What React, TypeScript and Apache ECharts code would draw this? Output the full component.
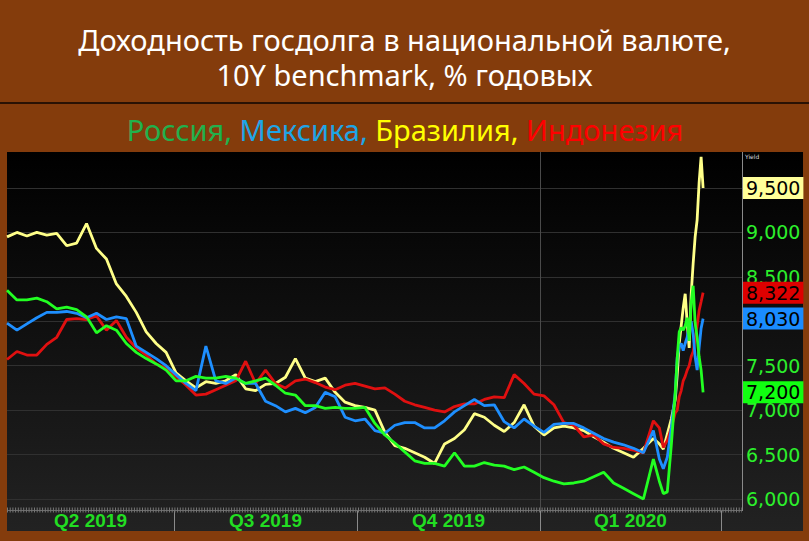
import React, { useEffect, useRef } from 'react';
import * as echarts from 'echarts';

const dates = [
  '2019-04-08', '2019-04-13', '2019-04-18', '2019-04-23', '2019-04-28', '2019-05-03', '2019-05-08', '2019-05-13',
  '2019-05-18', '2019-05-23', '2019-05-28', '2019-06-02', '2019-06-07', '2019-06-12', '2019-06-17', '2019-06-22',
  '2019-06-27', '2019-07-02', '2019-07-07', '2019-07-12', '2019-07-17', '2019-07-22', '2019-07-27', '2019-08-01',
  '2019-08-06', '2019-08-11', '2019-08-16', '2019-08-21', '2019-08-26', '2019-08-31', '2019-09-05', '2019-09-10',
  '2019-09-15', '2019-09-20', '2019-09-25', '2019-09-30', '2019-10-05', '2019-10-10', '2019-10-15', '2019-10-20',
  '2019-10-25', '2019-10-30', '2019-11-04', '2019-11-09', '2019-11-14', '2019-11-19', '2019-11-24', '2019-11-29',
  '2019-12-04', '2019-12-09', '2019-12-14', '2019-12-19', '2019-12-24', '2019-12-29', '2020-01-03', '2020-01-08',
  '2020-01-13', '2020-01-18', '2020-01-23', '2020-01-28', '2020-02-02', '2020-02-07', '2020-02-12', '2020-02-17',
  '2020-02-22', '2020-02-27', '2020-03-01', '2020-03-03', '2020-03-05', '2020-03-07', '2020-03-09', '2020-03-10',
  '2020-03-11', '2020-03-12', '2020-03-13', '2020-03-14', '2020-03-15', '2020-03-16', '2020-03-17', '2020-03-18',
  '2020-03-19', '2020-03-20', '2020-03-21', '2020-03-22', '2020-03-23',
];

const brazil = [
  8.95, 9.0, 8.96, 9.0, 8.97, 8.99, 8.85, 8.88, 9.1, 8.82, 8.7, 8.42, 8.28, 8.1, 7.88, 7.75,
  7.65, 7.42, 7.33, 7.25, 7.32, 7.3, 7.33, 7.4, 7.24, 7.22, 7.29, 7.3, 7.37, 7.58, 7.36, 7.32,
  7.36, 7.2, 7.09, 7.05, 7.03, 7.0, 6.75, 6.6, 6.57, 6.52, 6.47, 6.4, 6.62, 6.68, 6.78, 6.96,
  6.92, 6.83, 6.76, 6.86, 7.06, 6.82, 6.72, 6.8, 6.82, 6.8, 6.77, 6.7, 6.64, 6.57, 6.52, 6.47,
  6.57, 6.68, 6.62, 6.56, 6.73, 6.9, 7.12, 7.4, 7.75, 7.95, 8.15, 8.31, 7.98, 7.7, 8.3, 8.65,
  8.95, 9.14, 9.56, 9.85, 9.5,
];

const russia = [
  8.35, 8.24, 8.24, 8.26, 8.22, 8.14, 8.16, 8.13, 8.05, 7.87, 7.95, 7.9, 7.75, 7.65, 7.58, 7.52,
  7.45, 7.33, 7.33, 7.38, 7.36, 7.36, 7.38, 7.36, 7.3, 7.33, 7.36, 7.28, 7.19, 7.17, 7.05, 7.05,
  7.02, 7.03, 7.02, 7.02, 7.03, 6.85, 6.72, 6.63, 6.53, 6.43, 6.4, 6.4, 6.37, 6.52, 6.37, 6.37,
  6.41, 6.38, 6.37, 6.33, 6.36, 6.3, 6.24, 6.2, 6.17, 6.18, 6.2, 6.25, 6.3, 6.18, 6.12, 6.06,
  6.0, 6.45, 6.2, 6.06, 6.08, 6.6, 7.2, 7.59, 7.88, 7.93, 7.9, 7.95, 8.04, 7.78, 8.2, 8.4,
  7.98, 7.82, 7.6, 7.45, 7.2,
];

const mexico = [
  7.98, 7.9, 7.97, 8.04, 8.1, 8.1, 8.11, 8.09, 8.04, 8.09, 8.02, 8.05, 8.03, 7.72, 7.65, 7.58,
  7.5, 7.4, 7.3, 7.22, 7.72, 7.33, 7.3, 7.36, 7.3, 7.3, 7.1, 7.05, 6.98, 7.02, 6.97, 7.03,
  7.2, 7.15, 6.92, 6.88, 6.9, 6.77, 6.74, 6.83, 6.86, 6.86, 6.8, 6.8, 6.88, 6.98, 7.05, 7.12,
  7.05, 7.06, 6.87, 6.8, 6.9, 6.82, 6.75, 6.84, 6.85, 6.85, 6.8, 6.74, 6.68, 6.64, 6.61, 6.57,
  6.52, 6.77, 6.45, 6.34, 6.47, 6.8, 7.2, 7.59, 7.72, 7.75, 7.67, 7.75, 7.82, 7.95, 8.0, 7.86,
  7.6, 7.45, 7.7, 7.92, 8.03,
];

const indonesia = [
  7.57, 7.66, 7.62, 7.62, 7.74, 7.82, 8.02, 8.03, 8.02, 8.06, 7.9, 8.01, 7.82, 7.7, 7.62, 7.52,
  7.47, 7.38, 7.28, 7.17, 7.18, 7.23, 7.28, 7.33, 7.55, 7.3, 7.45, 7.3, 7.25, 7.33, 7.35, 7.31,
  7.26, 7.23, 7.28, 7.3, 7.27, 7.24, 7.25, 7.18, 7.1, 7.06, 7.03, 7.0, 6.98, 7.04, 7.07, 7.07,
  7.12, 7.15, 7.14, 7.4, 7.3, 7.18, 7.16, 7.06, 6.86, 6.83, 6.7, 6.72, 6.62, 6.58, 6.57, 6.55,
  6.52, 6.88, 6.8, 6.58, 6.66, 6.8, 6.97, 7.0, 7.15, 7.22, 7.33, 7.38, 7.45, 7.5, 7.6, 7.66,
  7.8, 7.95, 8.12, 8.22, 8.322,
];

const tickValues = [6, 6.5, 7, 7.5, 8, 8.5, 9, 9.5];
const quarterStarts = ['2019-04-01', '2019-07-01', '2019-10-01', '2020-01-01', '2020-04-01'];
const quarterLabels = ['Q2 2019', 'Q3 2019', 'Q4 2019', 'Q1 2020'];
const yearStart = '2020-01-01';

const titleLines = ['Доходность госдолга в национальной валюте,', '10Y benchmark, % годовых'];
const legendNames = ['Россия', 'Мексика', 'Бразилия', 'Индонезия'];

const parseDay = (s: string) => {
  const [y, m, d] = s.split('-').map(Number);
  return new Date(y, m - 1, d).getTime();
};
const fmt = (v: number) => v.toFixed(3).replace('.', ',');

const X_MIN = parseDay('2019-04-08');
const X_MAX = parseDay('2020-04-11') + 13.5 * 3600 * 1000;

export default function App() {
  const ref = useRef<HTMLDivElement>(null);

  useEffect(() => {
    if (!ref.current) return;
    const chart = echarts.init(ref.current, null, { renderer: 'svg' });

    const labelFont = "'DejaVu Sans', sans-serif";
    const titleFont = "'Noto Sans', 'Open Sans', sans-serif";

    const countries = [
      { name: legendNames[2], data: brazil, color: '#ffff88', badge: '#ffff99', z: 3 },
      { name: legendNames[3], data: indonesia, color: '#e01010', badge: '#dd0000', z: 4 },
      { name: legendNames[1], data: mexico, color: '#1e8fff', badge: '#1a8cff', z: 5 },
      { name: legendNames[0], data: russia, color: '#22ff22', badge: '#11ff11', z: 6 },
    ];
    const lastValues = countries.map((c) => c.data[c.data.length - 1]);

    const lineSeries = countries.map((c, ci) => {
      const last = lastValues[ci];
      return {
        type: 'line',
        name: c.name,
        xAxisIndex: 0,
        yAxisIndex: 0,
        z: c.z,
        symbol: 'none',
        showSymbol: false,
        lineStyle: { color: c.color, width: 2.8 },
        itemStyle: { color: c.color },
        data: dates.map((d, i) => [parseDay(d), c.data[i]]),
        markLine: {
          silent: true,
          z: 10 + c.z,
          symbol: ['none', 'none'],
          lineStyle: { color: 'rgba(0,0,0,0)', width: 0 },
          data: [{ yAxis: last }],
          label: {
            show: true,
            position: 'end',
            distance: 1,
            formatter: fmt(last),
            backgroundColor: c.badge,
            color: '#000',
            fontSize: 19,
            fontFamily: labelFont,
            padding: [1, 3, 1, 3],
            lineHeight: 20,
          },
        },
      };
    });

    const tickCovered = (v: number) => lastValues.some((l) => Math.abs(l - v) < 0.13);

    const option: any = {
      animation: false,
      backgroundColor: '#843c0c',
      grid: [
        { left: 7, top: 152, width: 735, height: 358 },
        { left: 7, top: 510, width: 735, height: 21 },
      ],
      xAxis: [
        { type: 'time', gridIndex: 0, min: X_MIN, max: X_MAX, show: false },
        { type: 'time', gridIndex: 1, min: X_MIN, max: X_MAX, show: false },
      ],
      yAxis: [
        { type: 'value', gridIndex: 0, min: 5.876, max: 9.905, show: false },
        { type: 'value', gridIndex: 1, min: 0, max: 1, show: false },
      ],
      graphic: [
        {
          type: 'rect',
          z: -10,
          shape: { x: 7, y: 152, width: 796, height: 379 },
          style: {
            fill: new echarts.graphic.LinearGradient(0, 0, 0, 1, [
              { offset: 0, color: '#000000' },
              { offset: 1, color: '#222222' },
            ]),
          },
        },
        {
          type: 'rect',
          z: -9,
          shape: { x: 0, y: 102, width: 809, height: 2 },
          style: { fill: '#2a1204' },
        },
        {
          type: 'text',
          x: 404.5,
          y: 56.5,
          style: {
            text: titleLines.join('\n'),
            fill: '#ffffff',
            font: `29px ${titleFont}`,
            lineHeight: 35,
            align: 'center',
            verticalAlign: 'middle',
          },
        },
        {
          type: 'text',
          x: 405,
          y: 129,
          style: {
            text: `{g|${legendNames[0]}, }{b|${legendNames[1]}, }{y|${legendNames[2]}, }{r|${legendNames[3]}}`,
            align: 'center',
            verticalAlign: 'middle',
            font: `29px ${titleFont}`,
            rich: {
              g: { fill: '#22b14c', fontSize: 29, fontFamily: titleFont, lineHeight: 32 },
              b: { fill: '#1ea5e6', fontSize: 29, fontFamily: titleFont, lineHeight: 32 },
              y: { fill: '#ffff00', fontSize: 29, fontFamily: titleFont, lineHeight: 32 },
              r: { fill: '#ff0000', fontSize: 29, fontFamily: titleFont, lineHeight: 32 },
            },
          },
        },
        {
          type: 'line',
          z: 50,
          shape: { x1: 742.5, y1: 152, x2: 742.5, y2: 511 },
          style: { stroke: '#8a8a8a', lineWidth: 1 },
        },
        {
          type: 'line',
          z: 50,
          shape: { x1: 7, y1: 510.5, x2: 742, y2: 510.5 },
          style: { stroke: '#6a6a6a', lineWidth: 1 },
        },
        {
          type: 'line',
          z: 50,
          shape: { x1: 7, y1: 510, x2: 742, y2: 510 },
          style: { stroke: '#777777', lineWidth: 5, lineDash: [1, 1.7] },
        },
        {
          type: 'text',
          z: 50,
          x: 745,
          y: 153,
          style: { text: 'Yield', fill: '#dddddd', font: "6px 'DejaVu Sans', sans-serif" },
        },
      ],
      series: [
        {
          type: 'line',
          xAxisIndex: 0,
          yAxisIndex: 0,
          z: 1,
          data: [],
          markLine: {
            silent: true,
            z: 1,
            symbol: ['none', 'none'],
            lineStyle: { color: '#303030', width: 1, type: 'solid' },
            label: {
              show: true,
              position: 'end',
              distance: 4,
              color: '#2cf02c',
              fontSize: 19,
              fontFamily: labelFont,
            },
            data: [
              ...tickValues.map((v) => ({
                yAxis: v,
                label: { formatter: fmt(v), show: !tickCovered(v) },
              })),
              {
                xAxis: parseDay(yearStart),
                lineStyle: { color: '#4a4a4a', width: 1, type: 'solid' },
                label: { show: false },
              },
            ],
          },
        },
        ...lineSeries,
        {
          type: 'line',
          xAxisIndex: 1,
          yAxisIndex: 1,
          z: 1,
          data: [],
          markArea: {
            silent: true,
            itemStyle: { color: 'rgba(0,0,0,0)' },
            label: {
              show: true,
              position: 'inside',
              color: '#22dd22',
              fontWeight: 'bold',
              fontSize: 19,
              fontFamily: "'Liberation Sans Narrow', 'Liberation Sans', sans-serif",
            },
            data: quarterLabels.map((q, i) => [
              { name: q, xAxis: parseDay(quarterStarts[i]) },
              { xAxis: parseDay(quarterStarts[i + 1]) },
            ]),
          },
          markLine: {
            silent: true,
            symbol: ['none', 'none'],
            lineStyle: { color: '#8a8a8a', width: 1, type: 'solid' },
            label: { show: false },
            data: quarterStarts.slice(1).map((s) => ({ xAxis: parseDay(s) })),
          },
        },
      ],
    };

    chart.setOption(option);
    return () => chart.dispose();
  }, []);

  return (
    <div
      ref={ref}
      style={{ position: 'fixed', left: 0, top: 0, width: 809, height: 541 }}
    />
  );
}
